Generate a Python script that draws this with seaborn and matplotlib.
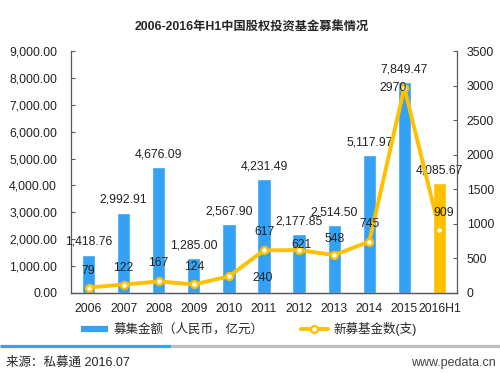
import matplotlib
matplotlib.use("Agg")
import matplotlib.pyplot as plt
from matplotlib.lines import Line2D
from matplotlib.ticker import FuncFormatter, FixedLocator
import seaborn as sns
import numpy as np

# data
years = ["2006", "2007", "2008", "2009", "2010", "2011", "2012", "2013", "2014", "2015", "2016H1"]
amounts = [1418.76, 2992.91, 4676.09, 1285.00, 2567.90, 4231.49, 2177.85, 2514.50, 5117.97, 7849.47, 4085.67]
fund_counts = [79, 122, 167, 124, 240, 617, 621, 548, 745, 2970, 909]

# where each count label sits relative to its point (pixels)
count_label_offsets = [(0, 17), (0, 17), (0, 18), (0, 17), (34, -2), (0, 18),
                       (2, 5), (0, 16), (0, 18), (-11, 0), (4, 17)]

BLUE = "#33A1F4"
GOLD = "#FFC000"
AXIS = "#595959"
FS = 8.8

sns.set_style("white")
plt.rcParams["font.family"] = ["Liberation Sans", "Noto Sans CJK SC"]
plt.rcParams["font.size"] = FS

fig = plt.figure(figsize=(5, 3.73), dpi=100)
ax = fig.add_axes([0.142, 0.2145, 0.772, 0.6485])

bar_colors = [BLUE] * (len(years) - 1) + [GOLD]
sns.barplot(x=years, y=amounts, hue=years, palette=bar_colors, legend=False,
            width=0.38, ax=ax, saturation=1)
for cont in ax.containers:
    ax.bar_label(cont, fmt="{:,.2f}", padding=5, fontsize=FS, color="#222222")

ax.set_ylim(0, 9000)
ax.set_yticks(np.arange(0, 9001, 1000))
ax.yaxis.set_major_formatter(FuncFormatter(lambda v, p: f"{v:,.2f}"))
ax.set_xlim(-0.5, len(years) - 0.5)

ax2 = ax.twinx()
sns.pointplot(x=years, y=fund_counts, ax=ax2, color=GOLD, markers="o",
              linewidth=2.8, markersize=5, markerfacecolor="white",
              markeredgecolor=GOLD, markeredgewidth=1.7)
ax2.set_ylim(0, 3500)
ax2.set_yticks(np.arange(0, 3501, 500))
ax2.set_xlim(-0.5, len(years) - 0.5)
for i, (v, off) in enumerate(zip(fund_counts, count_label_offsets)):
    ax2.annotate(str(v), (i, v), xytext=off, textcoords="offset pixels",
                 ha="center", va="center", fontsize=FS, color="#222222")

for a in (ax, ax2):
    a.set_xlabel("")
    a.set_ylabel("")
    a.grid(False)
    a.spines["top"].set_visible(False)
    for side in ("left", "right", "bottom"):
        a.spines[side].set_color(AXIS)
        a.spines[side].set_linewidth(0.9)
    a.tick_params(axis="y", direction="in", length=3, color=AXIS,
                  labelsize=FS, labelcolor="#222222")

ax.tick_params(axis="y", pad=10)
ax2.tick_params(axis="y", pad=7)
ax.spines["right"].set_visible(False)
ax2.spines["left"].set_visible(False)
ax.tick_params(axis="x", length=0, labelsize=FS, labelcolor="#222222", pad=7)
ax.xaxis.set_minor_locator(FixedLocator(np.arange(-0.5, len(years), 1.0)))
ax.tick_params(axis="x", which="minor", direction="in", length=3, color=AXIS)
ax2.tick_params(axis="x", length=0, labelbottom=False)

fig.text(0.504, 0.927, "2006-2016年H1中国股权投资基金募集情况",
         ha="center", va="center", fontsize=FS, fontweight="bold")

handles = [
    Line2D([0], [0], color=BLUE, lw=4.5, solid_capstyle="butt"),
    Line2D([0], [0], color=GOLD, lw=2.8, marker="o", markersize=5,
           markerfacecolor="white", markeredgecolor=GOLD, markeredgewidth=1.7),
]
fig.legend(handles, ["募集金额（人民币，亿元）", "新募基金数(支)"], loc="center",
           bbox_to_anchor=(0.497, 0.118), ncol=2, frameon=False, fontsize=9,
           handlelength=2.2, columnspacing=3.0, handletextpad=0.4)

# thin divider stripe and footer
fig.add_artist(Line2D([0, 0.342], [0.073, 0.073], color=BLUE, lw=2.3,
                      transform=fig.transFigure, solid_capstyle="butt"))
fig.add_artist(Line2D([0.342, 1.0], [0.073, 0.073], color="#BFBFBF", lw=2.3,
                      transform=fig.transFigure, solid_capstyle="butt"))
fig.text(0.012, 0.027, "来源：私募通 2016.07", ha="left", va="center", fontsize=9)
fig.text(0.992, 0.027, "www.pedata.cn", ha="right", va="center", fontsize=9,
         color="#444444")

fig.savefig("out.png", dpi=100)
